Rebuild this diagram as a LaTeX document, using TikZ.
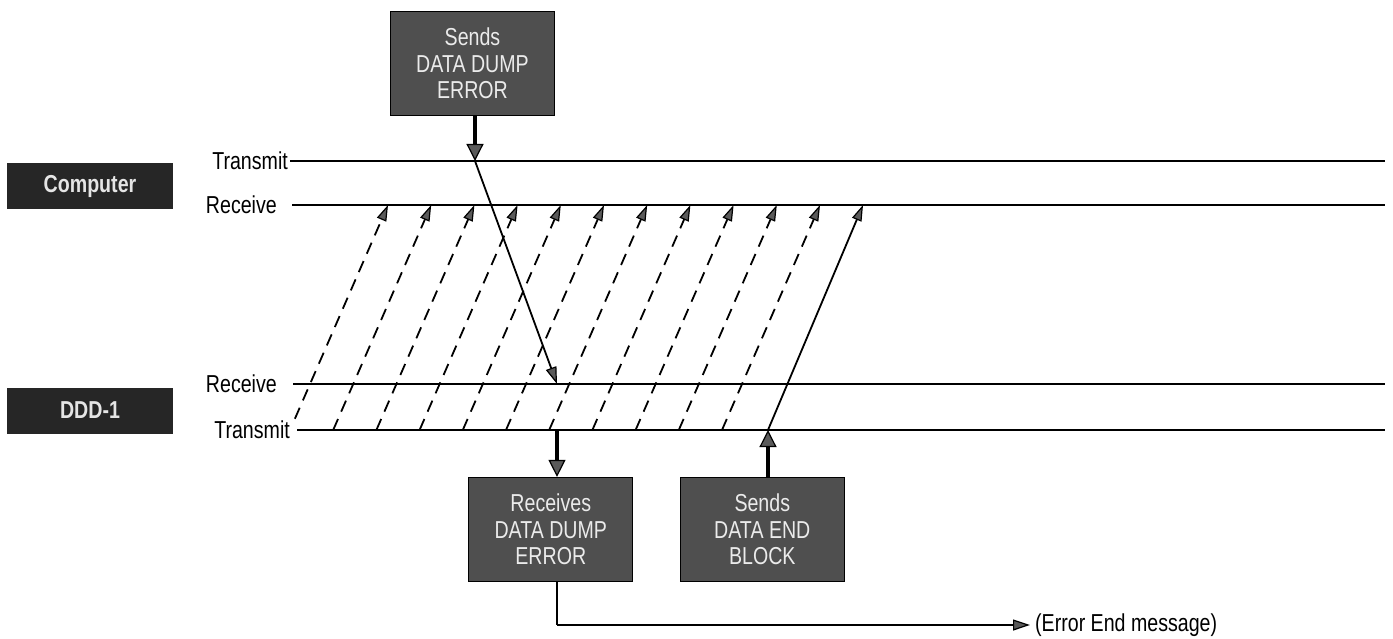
\documentclass[tikz,border=0pt]{standalone}
\usepackage{fontspec}
\setmainfont{Liberation Sans}[FakeStretch=0.8]
\usetikzlibrary{arrows.meta,calc}
\definecolor{boxgray}{HTML}{4F4F4F}
\definecolor{darkbox}{HTML}{262626}
\definecolor{headgray}{HTML}{5A5A5A}
\begin{document}
\begin{tikzpicture}[x=1pt,y=-1pt,
  procbox/.style={draw=black, line width=1.2pt, fill=boxgray, text=white!92!black, align=center,
    minimum width=164pt, minimum height=104pt, inner sep=0pt,
    font=\fontsize{24.5}{26.5}\selectfont},
  sidebox/.style={fill=darkbox, text=white!90!black, minimum width=166pt, minimum height=46pt,
    inner sep=0pt, font=\fontsize{24.5}{26}\selectfont\bfseries},
  lbl/.style={font=\fontsize{24.5}{26}\selectfont, anchor=east, inner sep=0pt},
  bus/.style={line width=2.8pt},
  sig/.style={dash pattern=on 12pt off 8pt, line width=1.8pt,
    -{Triangle[length=16pt,width=10pt,fill=headgray,line width=1.2pt]}},
  sigsolid/.style={line width=1.8pt,
    -{Triangle[length=16pt,width=10pt,fill=headgray,line width=1.2pt]}},
  bigarrow/.style={line width=3.2pt,
    -{Triangle[length=17pt,width=17pt,fill=headgray,line width=1.2pt]}},
  msg/.style={line width=1.8pt,
    -{Triangle[length=17pt,width=11pt,fill=headgray,line width=1.2pt]}},
  note/.style={font=\fontsize{24.5}{26}\selectfont, anchor=west, inner sep=0pt}
]
\useasboundingbox (0,0) rectangle (1393,639);

% side labels
\node[sidebox] (comp) at (90,186) {Computer};
\node[sidebox] (ddd) at (90,410.5) {DDD-1};

% line labels and bus lines
\node[lbl] (ctx) at (288,161) {Transmit};
\node[lbl] (crx) at (277,205) {Receive};
\node[lbl] (drx) at (277,384) {Receive};
\node[lbl] (dtx) at (290,430) {Transmit};

\coordinate (ctxS) at (290,161); \coordinate (ctxE) at (1385,161);
\coordinate (crxS) at (292,205); \coordinate (crxE) at (1385,205);
\coordinate (drxS) at (293,384); \coordinate (drxE) at (1385,384);
\coordinate (dtxS) at (297,430); \coordinate (dtxE) at (1385,430);
\draw[bus] (ctxS) -- (ctxE);
\draw[bus] (crxS) -- (crxE);
\draw[bus] (drxS) -- (drxE);
\draw[bus] (dtxS) -- (dtxE);

% process boxes
\node[procbox] (sendErr) at (472.5,63.5) {Sends\\DATA DUMP\\ERROR};
\node[procbox] (recvErr) at (550.8,529.5) {Receives\\DATA DUMP\\ERROR};
\node[procbox] (sendEnd) at (762.3,529.3) {Sends\\DATA END\\BLOCK};

% Data Dump Error path
\coordinate (e1) at (475,161);
\coordinate (e2) at (557,384);
\coordinate (e3) at (557,430);
\draw[bigarrow] (sendErr.south -| e1) -- (e1);
\draw[msg] (e1) -- (e2);
\draw[bigarrow] (e3) -- (e3 |- recvErr.north);

% acknowledgement (dashed) signals from DDD-1 transmit to computer receive
\foreach \k in {0,...,10}{
  \coordinate (t\k) at ({388+43.2*\k},205);
  \coordinate (b\k) at ({290+43.2*\k},430);
}
\draw[sig] ($(b0)!0.05!(t0)$) -- (t0);
\foreach \k in {1,...,10}{
  \draw[sig] (b\k) -- (t\k);
}

% data end block
\coordinate (d1) at (768,430);
\coordinate (d2) at (863,205);
\draw[bigarrow] (sendEnd.north -| d1) -- (d1);
\draw[sigsolid] (d1) -- (d2);

% error end message
\coordinate (m1) at (557,625);
\coordinate (m2) at (1030,625);
\draw[line width=2.8pt] (recvErr.south -| m1) -- (m1);
\draw[msg] (m1) -- (m2);
\node[note] (errEnd) at (1035,625) {(Error End message)};
\end{tikzpicture}
\end{document}
